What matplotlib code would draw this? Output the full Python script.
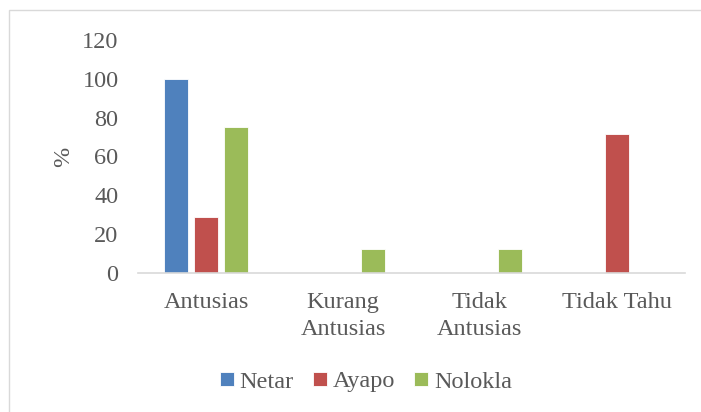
import matplotlib
matplotlib.use("Agg")
import matplotlib.pyplot as plt
import numpy as np
from matplotlib.patches import Rectangle

categories = ["Antusias", "Kurang\nAntusias", "Tidak\nAntusias", "Tidak Tahu"]
series_names = ["Netar", "Ayapo", "Nolokla"]
netar = [100, 0, 0, 0]
ayapo = [28.6, 0, 0, 71.4]
nolokla = [75, 12.5, 12.5, 0]
y_ticks = [0, 20, 40, 60, 80, 100, 120]
colors = ["#4f81bd", "#c0504d", "#9bbb59"]

text_color = "#595959"
fs = 17.5
plt.rcParams["font.family"] = ["Liberation Serif", "DejaVu Serif"]

fig = plt.figure(figsize=(7.01, 4.12), dpi=100)
ax = fig.add_axes([138 / 701, 1 - 273 / 412, (685 - 138) / 701, (273 - 40) / 412])

# thin frame around the chart area
fig.patches.append(Rectangle((9 / 701, -0.1), 1.2, (412 - 10) / 412 + 0.1,
                             transform=fig.transFigure, fill=False,
                             edgecolor="#d9d9d9", linewidth=1.0))

x = np.arange(len(categories))
width = 0.175
step = 0.22
for i, (vals, name, c) in enumerate(zip([netar, ayapo, nolokla], series_names, colors)):
    ax.bar(x + (i - 1) * step, vals, width, color=c, label=name,
           edgecolor="white", linewidth=0.6)

ax.set_xlim(-0.5, len(categories) - 0.5)
ax.set_ylim(0, 120)
ax.set_yticks(y_ticks)
ax.set_xticks(x)
ax.set_xticklabels(categories, linespacing=1.35)
ax.tick_params(axis="y", length=0, pad=14, labelsize=fs, labelcolor=text_color)
ax.tick_params(axis="x", length=0, pad=14, labelsize=fs, labelcolor=text_color)

for side in ["top", "right", "left"]:
    ax.spines[side].set_visible(False)
ax.spines["bottom"].set_color("#d9d9d9")
ax.spines["bottom"].set_linewidth(1.2)

ax.set_ylabel("%", fontsize=fs, color=text_color, labelpad=6)

fig.legend(loc="center", bbox_to_anchor=(366 / 701, 1 - 382 / 412), ncol=3,
           frameon=False, fontsize=fs, handlelength=0.55, handleheight=0.55,
           handletextpad=0.25, columnspacing=0.8, labelcolor=text_color)

fig.savefig("out.png", dpi=100)
